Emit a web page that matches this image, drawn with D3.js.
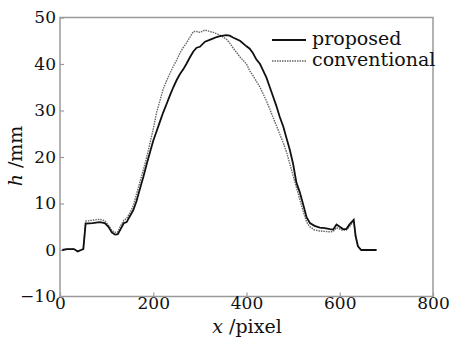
<!DOCTYPE html>
<html>
<head>
<meta charset="utf-8">
<script src="https://cdn.jsdelivr.net/npm/d3@7"></script>
<style>
  body { margin: 0; background: #fff; }
  svg { display: block; }
</style>
</head>
<body>
<svg></svg>
<script>
const xs = [5, 15, 30, 38, 45, 50, 55, 70, 85, 96, 104, 111, 118, 124, 130, 137, 143, 150, 157, 164,
  171, 179, 186, 193, 200, 207, 214, 221, 229, 236, 243, 250, 257, 264, 271, 279, 286, 293, 300, 311,
  321, 329, 336, 343, 350, 357, 364, 371, 386, 400, 407, 414, 421, 429, 436, 443, 450, 457, 464, 471,
  479, 486, 493, 500, 507, 514, 521, 529, 536, 546, 557, 568, 579, 586, 593, 600, 607, 614, 621, 630,
  634, 639, 646, 660, 679];

const proposed = [0, 0.2, 0.2, -0.3, 0, 0.2, 5.7, 5.8, 6.0, 5.8, 5.0, 3.8, 3.3, 3.4, 4.5, 5.8, 6.0, 7.3, 8.5, 10.5,
  13, 15.8, 18.5, 21, 23.5, 25.5, 27.5, 29.5, 31.5, 33.3, 35, 36.5, 37.8, 38.8, 40, 41.5, 42.7, 43.5, 43.7, 44.8,
  45.2, 45.5, 45.8, 46, 46.1, 46.2, 46.1, 45.7, 45, 43.8, 43.3, 42.3, 41, 40, 38.5, 37, 35, 33, 31, 28.7,
  26.5, 24, 21.5, 18.5, 14.5, 12.5, 10, 7, 5.8, 5.2, 4.8, 4.7, 4.5, 4.4, 5.5, 5, 4.5, 4.5, 5.5, 6.5,
  3, 0.8, 0, 0, 0];

const conventional = [0, 0.2, 0.2, -0.3, 0, 0.2, 6.2, 6.4, 6.6, 6.3, 5.3, 4.2, 3.8, 3.9, 5.2, 6.4, 6.8, 8, 9.5, 12,
  14.5, 17.3, 20, 23, 26, 29.5, 32, 34.5, 36.5, 38, 39.5, 40.8, 42.3, 43.5, 44.5, 45.8, 47, 47, 46.8, 47.3,
  47, 46.8, 46.5, 46.2, 45.8, 45.3, 44.5, 43.5, 41.5, 40, 38.5, 37.5, 36.3, 35, 33.5, 32, 30.3, 28.5, 26.8, 25,
  23, 21, 18.5, 16, 13.5, 11, 8.5, 6, 5, 4.3, 4.1, 4, 3.9, 4, 4.8, 4.5, 4.2, 4.3, 5, 6.2,
  3, 0.8, 0, 0, 0];

const xTicks = [0, 200, 400, 600, 800];
const yTicks = [-10, 0, 10, 20, 30, 40, 50];
const seriesNames = ['proposed', 'conventional'];

const width = 452, height = 343;
const margin = {top: 17.5, right: 19, bottom: 46.5, left: 60};
const font = '"DejaVu Serif", serif';
const tickSize = 17, labelSize = 19;

const svg = d3.select('svg')
  .attr('width', width)
  .attr('height', height);

const x = d3.scaleLinear().domain([0, 800]).range([margin.left, width - margin.right]);
const y = d3.scaleLinear().domain([-10, 50]).range([height - margin.bottom, margin.top]);

const axisColor = '#9a9a9a';

// frame
svg.append('rect')
  .attr('x', x(0))
  .attr('y', y(50))
  .attr('width', x(800) - x(0))
  .attr('height', y(-10) - y(50))
  .attr('fill', 'none')
  .attr('stroke', axisColor)
  .attr('stroke-width', 1.5);

// x axis
const xAxis = svg.append('g')
  .attr('transform', `translate(0,${y(-10)})`)
  .call(d3.axisBottom(x).tickValues(xTicks).tickSizeInner(-4).tickSizeOuter(0).tickPadding(0));
xAxis.attr('font-family', font);
xAxis.select('.domain').remove();
xAxis.selectAll('line').attr('stroke', axisColor).attr('stroke-width', 1.2);
xAxis.selectAll('text').attr('font-size', tickSize).attr('font-family', font).attr('fill', '#111')
  .attr('dy', '0.74em');

// y axis
const yAxis = svg.append('g')
  .attr('transform', `translate(${x(0)},0)`)
  .call(d3.axisLeft(y).tickValues(yTicks).tickSizeInner(-4).tickSizeOuter(0).tickPadding(4)
    .tickFormat(d => d < 0 ? '\u2212' + Math.abs(d) : d));
yAxis.attr('font-family', font);
yAxis.select('.domain').remove();
yAxis.selectAll('line').attr('stroke', axisColor).attr('stroke-width', 1.2);
yAxis.selectAll('text').attr('font-size', tickSize).attr('font-family', font).attr('fill', '#111');

// labels
const xl = svg.append('text')
  .attr('x', 247)
  .attr('y', 333)
  .attr('text-anchor', 'middle')
  .attr('font-family', font)
  .attr('font-size', labelSize)
  .attr('fill', '#111');
xl.append('tspan').attr('font-style', 'italic').text('x');
xl.append('tspan').text(' /pixel');

const yl = svg.append('text')
  .attr('transform', `translate(22,156) rotate(-90)`)
  .attr('text-anchor', 'middle')
  .attr('font-family', font)
  .attr('font-size', labelSize)
  .attr('fill', '#111');
yl.append('tspan').attr('font-style', 'italic').text('h');
yl.append('tspan').text(' /mm');

// curves
const line = d3.line()
  .x((d, i) => x(xs[i]))
  .y(d => y(d));

svg.append('path')
  .datum(conventional)
  .attr('fill', 'none')
  .attr('stroke', '#666')
  .attr('stroke-width', 1.4)
  .attr('stroke-dasharray', '1.5,1')
  .attr('d', line);

svg.append('path')
  .datum(proposed)
  .attr('fill', 'none')
  .attr('stroke', '#111')
  .attr('stroke-width', 1.8)
  .attr('d', line);

// legend
const legend = svg.append('g').attr('transform', 'translate(272,40)');
seriesNames.forEach((name, i) => {
  const g = legend.append('g').attr('transform', `translate(0,${i * 21})`);
  g.append('line')
    .attr('x1', 0).attr('x2', 34)
    .attr('stroke', i === 0 ? '#111' : '#666')
    .attr('stroke-width', i === 0 ? 1.8 : 1.4)
    .attr('stroke-dasharray', i === 0 ? null : '1.5,1');
  g.append('text')
    .attr('x', 40)
    .attr('y', 5)
    .attr('font-family', font)
    .attr('font-size', labelSize)
    .attr('fill', '#111')
    .text(name);
});
</script>
</body>
</html>
